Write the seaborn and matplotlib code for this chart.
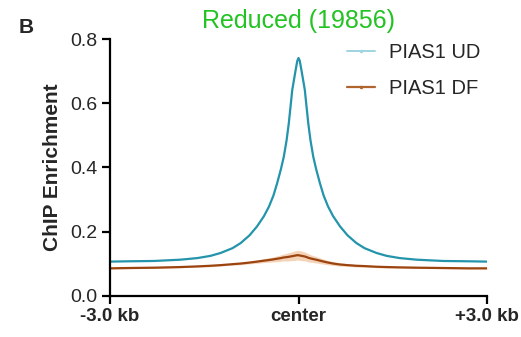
import numpy as np
import pandas as pd
import matplotlib
matplotlib.use("Agg")
import matplotlib.pyplot as plt
import seaborn as sns
from matplotlib.lines import Line2D

# ---- data ----
pos_kb = [-3.0, -2.7, -2.3, -1.88, -1.61, -1.4, -1.24, -1.05, -0.92, -0.78, -0.66,
          -0.55, -0.47, -0.4, -0.34, -0.28, -0.234, -0.19, -0.155, -0.13, -0.1,
          -0.05, -0.02, 0.0, 0.02, 0.05, 0.1, 0.13, 0.155, 0.19, 0.234, 0.28, 0.34,
          0.4, 0.47, 0.55, 0.66, 0.78, 0.92, 1.05, 1.24, 1.4, 1.61, 1.88, 2.3, 2.7, 3.0]
ud_values = [0.106, 0.107, 0.108, 0.112, 0.117, 0.124, 0.133, 0.148, 0.164, 0.188,
             0.216, 0.248, 0.278, 0.312, 0.351, 0.395, 0.434, 0.485, 0.538, 0.585,
             0.642, 0.700, 0.733, 0.742, 0.733, 0.700, 0.642, 0.585, 0.538, 0.485,
             0.434, 0.395, 0.351, 0.312, 0.278, 0.248, 0.216, 0.188, 0.164, 0.148,
             0.133, 0.124, 0.117, 0.112, 0.108, 0.107, 0.106]
df_values = [0.085, 0.086, 0.087, 0.089, 0.091, 0.093, 0.095, 0.098, 0.100, 0.103,
             0.106, 0.109, 0.111, 0.113, 0.115, 0.117, 0.119, 0.120, 0.121, 0.122,
             0.123, 0.125, 0.126, 0.126, 0.125, 0.124, 0.122, 0.120, 0.118, 0.116,
             0.114, 0.112, 0.109, 0.106, 0.103, 0.100, 0.097, 0.095, 0.093, 0.092,
             0.090, 0.089, 0.088, 0.087, 0.086, 0.085, 0.085]
df_sem = [0.002, 0.002, 0.002, 0.002, 0.002, 0.003, 0.003, 0.003, 0.004, 0.004,
          0.005, 0.006, 0.007, 0.008, 0.009, 0.010, 0.011, 0.012, 0.013, 0.013,
          0.014, 0.015, 0.015, 0.015, 0.015, 0.015, 0.014, 0.013, 0.013, 0.012,
          0.011, 0.010, 0.009, 0.008, 0.007, 0.006, 0.005, 0.004, 0.004, 0.003,
          0.003, 0.003, 0.002, 0.002, 0.002, 0.002, 0.002]
series_names = ["PIAS1 UD", "PIAS1 DF"]
x_tick_pos = [-3.0, 0.0, 3.0]
x_tick_labels = ["-3.0 kb", "center", "+3.0 kb"]
y_ticks = [0.0, 0.2, 0.4, 0.6, 0.8]

sns.set_style("ticks")
plt.rcParams["font.family"] = ["Liberation Sans", "DejaVu Sans"]

data = pd.DataFrame({
    "pos": pos_kb * 2,
    "value": ud_values + df_values,
    "series": [series_names[0]] * len(pos_kb) + [series_names[1]] * len(pos_kb),
})

ud_color = "#2394ab"
df_color = "#9c4410"
palette = {series_names[0]: ud_color, series_names[1]: df_color}

fig = plt.figure(figsize=(5.21, 3.37), dpi=100)
ax = fig.add_axes([0.211, 0.123, 0.724, 0.760])

lo = np.array(df_values) - np.array(df_sem)
hi = np.array(df_values) + np.array(df_sem)
ax.fill_between(pos_kb, lo, hi, color="#f3c9a6", alpha=0.8, linewidth=0)

sns.lineplot(data=data, x="pos", y="value", hue="series", palette=palette,
             linewidth=1.6, ax=ax, legend=False, sort=False)

ax.set_xlim(-3.0, 3.0)
ax.set_ylim(0.0, 0.8)
ax.set_xticks(x_tick_pos)
ax.set_xticklabels(x_tick_labels, fontweight="bold", fontsize=13.5)
ax.set_yticks(y_ticks)
ax.set_yticklabels([f"{v:.1f}" for v in y_ticks], fontsize=14)
ax.set_xlabel("")
ax.set_ylabel("ChIP Enrichment", fontweight="bold", fontsize=15, labelpad=6)
sns.despine(ax=ax)
for s in ["left", "bottom"]:
    ax.spines[s].set_linewidth(1.6)
    ax.spines[s].set_color("black")
ax.tick_params(axis="both", width=1.6, length=6, color="black", pad=3)

ax.set_title("Reduced (19856)", color="#22c322", fontsize=18, pad=8)
fig.text(0.035, 0.918, "B", fontweight="bold", fontsize=15, va="center")

handles = [
    Line2D([0], [0], color="#9fd4e2", lw=1.4, marker=".", markersize=3),
    Line2D([0], [0], color="#b0642e", lw=1.6, marker=".", markersize=3),
]
ax.legend(handles, series_names, loc="upper right", bbox_to_anchor=(1.03, 1.055),
          frameon=False, fontsize=14.5, handlelength=1.4, labelspacing=0.8,
          handletextpad=0.7)

fig.savefig("out.png", dpi=100)
